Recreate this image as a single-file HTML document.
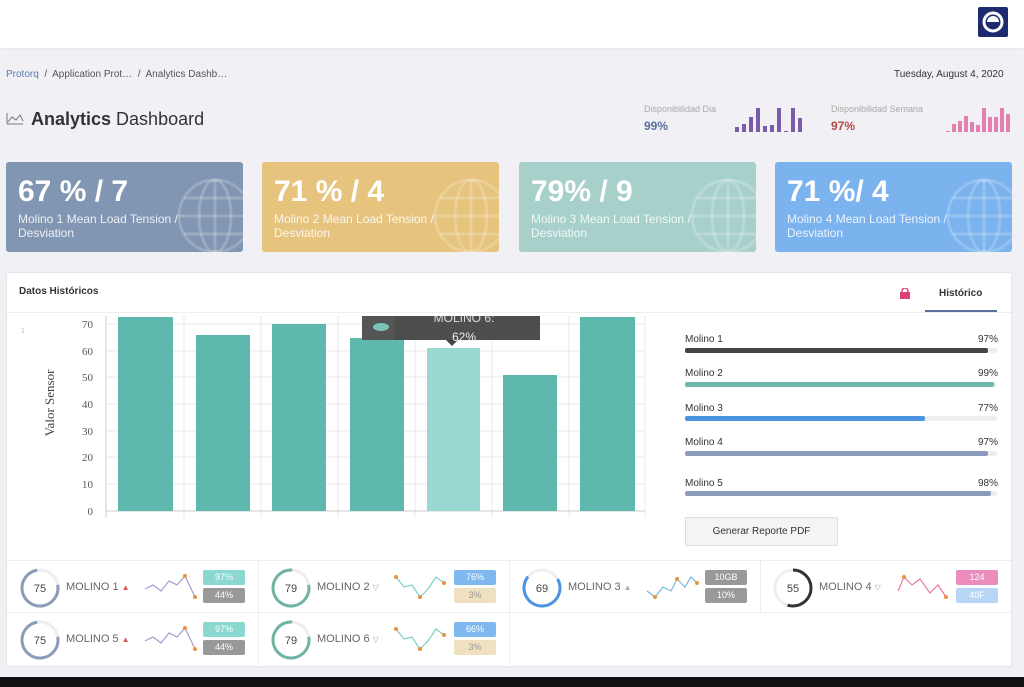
<!DOCTYPE html>
<html><head><meta charset="utf-8"><style>
*{margin:0;padding:0;box-sizing:border-box}
body{width:1024px;height:687px;background:#f1f1f5;font-family:"Liberation Sans",sans-serif;position:relative;overflow:hidden;color:#333}
.a{position:absolute}
.card{position:absolute;top:162px;width:237px;height:90px;border-radius:3px;color:#fff;overflow:hidden}
.card .big{position:absolute;left:12px;top:13px;font-size:30px;font-weight:bold}
.card .sub{position:absolute;left:12px;top:50px;font-size:12px;line-height:14px;opacity:.85}
.card svg{position:absolute;right:-12px;top:14px}
.lbl{font-size:10px;color:#333}
.pct{font-size:10px;color:#333}
.bar{position:absolute;left:685px;width:312px;height:5px;background:#eee;border-radius:2px}
.bar div{height:5px;border-radius:2px}
.cell{position:absolute;width:251px;height:52px;border-right:1px solid #eee}
.cell .name{position:absolute;left:58px;top:20px;font-size:11px;color:#666}
.tag{position:absolute;left:195px;width:42px;height:15px;border-radius:2px;font-size:9px;color:#fff;text-align:center;line-height:15px}
</style></head><body>
<div class="a" style="left:0;top:0;width:1024px;height:48px;background:#fff;box-shadow:0 1px 3px #e6e6ee"></div>
<div class="a" style="left:978px;top:7px;width:30px;height:30px;background:#1e2a6e;border-radius:2px"><svg width="30" height="30"><circle cx="15" cy="15" r="9" fill="none" stroke="#fff" stroke-width="3"/><path d="M9 15 A6 6 0 0 1 21 15" fill="#fff"/></svg></div>
<div class="a" style="left:6px;top:69px;font-size:10px;color:#555"><span style="color:#5a7bb0">Protorq</span> &nbsp;/&nbsp; Application Prot… &nbsp;/&nbsp; Analytics Dashb…</div>
<div class="a" style="left:894px;top:69px;font-size:10px;color:#333">Tuesday, August 4, 2020</div>
<svg class="a" style="left:6px;top:112px" width="18" height="13"><polyline points="1,12 1,1" stroke="#777" fill="none"/><polyline points="1,12 17,12" stroke="#777" fill="none"/><polyline points="2,10 6,5 10,8 14,3 17,9" stroke="#777" fill="none"/></svg>
<div class="a" style="left:31px;top:109px;font-size:18px;color:#333"><b>Analytics</b> Dashboard</div>
<div class="a" style="left:644px;top:104px;font-size:9px;color:#aaa">Disponibilidad Dia</div>
<div class="a" style="left:644px;top:119px;font-size:12px;color:#5d6f9c;font-weight:bold">99%</div>
<svg class="a" style="left:735px;top:104px" width="72" height="28"><g fill="#7b5ca8"><rect x="0" y="23" width="4" height="5"/><rect x="7" y="20" width="4" height="8"/><rect x="14" y="13" width="4" height="15"/><rect x="21" y="4" width="4" height="24"/><rect x="28" y="22" width="4" height="6"/><rect x="35" y="21" width="4" height="7"/><rect x="42" y="4" width="4" height="24"/><rect x="49" y="27" width="4" height="1"/><rect x="56" y="4" width="4" height="24"/><rect x="63" y="14" width="4" height="14"/></g></svg>
<div class="a" style="left:817px;top:102px;width:1px;height:32px;background:#eee"></div>
<div class="a" style="left:831px;top:104px;font-size:9px;color:#aaa">Disponibilidad Semana</div>
<div class="a" style="left:831px;top:119px;font-size:12px;color:#b84848;font-weight:bold">97%</div>
<svg class="a" style="left:946px;top:104px" width="68" height="28"><g fill="#e480b0"><rect x="0" y="27" width="4" height="1"/><rect x="6" y="20" width="4" height="8"/><rect x="12" y="17" width="4" height="11"/><rect x="18" y="12" width="4" height="16"/><rect x="24" y="18" width="4" height="10"/><rect x="30" y="21" width="4" height="7"/><rect x="36" y="4" width="4" height="24"/><rect x="42" y="13" width="4" height="15"/><rect x="48" y="13" width="4" height="15"/><rect x="54" y="4" width="4" height="24"/><rect x="60" y="10" width="4" height="18"/></g></svg>

<div class="card" style="left:6px;background:#8196b2"><div class="big">67 % / 7</div><div class="sub">Molino 1 Mean Load Tension /<br>Desviation</div><svg width="80" height="80"><g fill="none" stroke="#fff" stroke-opacity=".2" stroke-width="3"><circle cx="40" cy="40" r="36"/><ellipse cx="40" cy="40" rx="16" ry="36"/><line x1="4" y1="40" x2="76" y2="40"/><line x1="40" y1="4" x2="40" y2="76"/><line x1="9" y1="22" x2="71" y2="22"/><line x1="9" y1="58" x2="71" y2="58"/></g></svg></div>
<div class="card" style="left:262px;background:#e6c47e"><div class="big">71 % / 4</div><div class="sub">Molino 2 Mean Load Tension /<br>Desviation</div><svg width="80" height="80"><g fill="none" stroke="#fff" stroke-opacity=".2" stroke-width="3"><circle cx="40" cy="40" r="36"/><ellipse cx="40" cy="40" rx="16" ry="36"/><line x1="4" y1="40" x2="76" y2="40"/><line x1="40" y1="4" x2="40" y2="76"/><line x1="9" y1="22" x2="71" y2="22"/><line x1="9" y1="58" x2="71" y2="58"/></g></svg></div>
<div class="card" style="left:519px;background:#a7d0cb"><div class="big">79% / 9</div><div class="sub">Molino 3 Mean Load Tension /<br>Desviation</div><svg width="80" height="80"><g fill="none" stroke="#fff" stroke-opacity=".2" stroke-width="3"><circle cx="40" cy="40" r="36"/><ellipse cx="40" cy="40" rx="16" ry="36"/><line x1="4" y1="40" x2="76" y2="40"/><line x1="40" y1="4" x2="40" y2="76"/><line x1="9" y1="22" x2="71" y2="22"/><line x1="9" y1="58" x2="71" y2="58"/></g></svg></div>
<div class="card" style="left:775px;background:#7bb3ee"><div class="big">71 %/ 4</div><div class="sub">Molino 4 Mean Load Tension /<br>Desviation</div><svg width="80" height="80"><g fill="none" stroke="#fff" stroke-opacity=".2" stroke-width="3"><circle cx="40" cy="40" r="36"/><ellipse cx="40" cy="40" rx="16" ry="36"/><line x1="4" y1="40" x2="76" y2="40"/><line x1="40" y1="4" x2="40" y2="76"/><line x1="9" y1="22" x2="71" y2="22"/><line x1="9" y1="58" x2="71" y2="58"/></g></svg></div>

<div class="a" style="left:6px;top:272px;width:1006px;height:395px;background:#fff;border:1px solid #e6e6ea;border-radius:3px"></div>
<div class="a" style="left:19px;top:286px;font-size:10px;font-weight:bold;color:#333">Datos Históricos</div>
<div class="a" style="left:900px;top:286px;width:10px;height:10px"><svg width="10" height="11"><rect x="0" y="4" width="10" height="7" fill="#e0407a"/><path d="M2 5V3a3 3 0 0 1 6 0v2" fill="none" stroke="#e0407a" stroke-width="1.5"/></svg></div>
<div class="a" style="left:939px;top:288px;font-size:10px;font-weight:bold;color:#333">Histórico</div>
<div class="a" style="left:925px;top:310px;width:72px;height:2px;background:#5d6f9c"></div>
<div class="a" style="left:7px;top:312px;width:1004px;height:1px;background:#eee"></div>

<svg class="a" style="left:0;top:313px" width="680" height="210">
<g stroke="#e8e8ec" stroke-width="1">
<line x1="106" y1="11" x2="645" y2="11"/><line x1="106" y1="38" x2="645" y2="38"/><line x1="106" y1="64" x2="645" y2="64"/><line x1="106" y1="91" x2="645" y2="91"/><line x1="106" y1="118" x2="645" y2="118"/><line x1="106" y1="144" x2="645" y2="144"/><line x1="106" y1="171" x2="645" y2="171"/>
<line x1="184" y1="3" x2="184" y2="205"/><line x1="261" y1="3" x2="261" y2="205"/><line x1="338" y1="3" x2="338" y2="205"/><line x1="415" y1="3" x2="415" y2="205"/><line x1="492" y1="3" x2="492" y2="205"/><line x1="569" y1="3" x2="569" y2="205"/><line x1="645" y1="3" x2="645" y2="205"/>
</g>
<line x1="106" y1="3" x2="106" y2="205" stroke="#ccc"/>
<line x1="106" y1="198" x2="645" y2="198" stroke="#ccc"/>
<g font-family="Liberation Serif" font-size="11" fill="#555" text-anchor="end">
<text x="93" y="15">70</text><text x="93" y="42">60</text><text x="93" y="68">50</text><text x="93" y="95">40</text><text x="93" y="122">30</text><text x="93" y="148">20</text><text x="93" y="175">10</text><text x="93" y="202">0</text></g>
<text x="21" y="20" font-size="7" fill="#bbb">1</text>
<text transform="translate(54,90) rotate(-90)" font-family="Liberation Serif" font-size="13" fill="#444" text-anchor="middle">Valor Sensor</text>
<g fill="#5fb8ad">
<rect x="118" y="4" width="55" height="194"/><rect x="196" y="22" width="54" height="176"/><rect x="272" y="11" width="54" height="187"/><rect x="350" y="25" width="54" height="173"/><rect x="427" y="35" width="53" height="163" fill="#9ad8d2"/><rect x="503" y="62" width="54" height="136"/><rect x="580" y="4" width="55" height="194"/></g>
<rect x="362" y="3" width="178" height="24" fill="#444" opacity=".95"/><rect x="362" y="3" width="32" height="24" fill="#555"/>
<ellipse cx="381" cy="14" rx="8" ry="4" fill="#7ac4b7"/>
<path d="M446 27 L452 33 L458 27Z" fill="#444"/>
<text x="464" y="9" font-size="12" fill="#ddd" text-anchor="middle">MOLINO 6:</text>
<text x="464" y="28" font-size="12" fill="#eee" text-anchor="middle">62%</text>
</svg>
<div class="a" style="left:7px;top:313px;width:660px;height:3px;background:#fff"></div>

<div class="a lbl" style="left:685px;top:334px">Molino 1</div><div class="a pct" style="left:978px;top:334px">97%</div>
<div class="bar" style="top:348px"><div style="width:97%;background:#444"></div></div>
<div class="a lbl" style="left:685px;top:368px">Molino 2</div><div class="a pct" style="left:978px;top:368px">99%</div>
<div class="bar" style="top:382px"><div style="width:99%;background:#6fb7a9"></div></div>
<div class="a lbl" style="left:685px;top:403px">Molino 3</div><div class="a pct" style="left:978px;top:403px">77%</div>
<div class="bar" style="top:416px"><div style="width:77%;background:#4a94e0"></div></div>
<div class="a lbl" style="left:685px;top:437px">Molino 4</div><div class="a pct" style="left:978px;top:437px">97%</div>
<div class="bar" style="top:451px"><div style="width:97%;background:#8a9bbb"></div></div>
<div class="a lbl" style="left:685px;top:478px">Molino 5</div><div class="a pct" style="left:978px;top:478px">98%</div>
<div class="bar" style="top:491px"><div style="width:98%;background:#8a9bbb"></div></div>
<div class="a" style="left:685px;top:517px;width:153px;height:29px;background:#f4f4f4;border:1px solid #ddd;border-radius:2px;font-size:10px;text-align:center;line-height:27px;color:#333">Generar Reporte PDF</div>

<div class="a" style="left:7px;top:560px;width:1004px;height:1px;background:#eee"></div>
<div class="a" style="left:7px;top:612px;width:1004px;height:1px;background:#eee"></div>

<div class="cell" style="left:8px;top:561px"><svg class="a" style="left:10px;top:5px" width="44" height="44"><circle cx="22" cy="22" r="18" fill="none" stroke="#eee" stroke-width="3"/><circle cx="22" cy="22" r="18" fill="none" stroke="#8c9bb8" stroke-width="3" stroke-dasharray="85 113" transform="rotate(-10 22 22)"/><text x="22" y="26" font-size="11" text-anchor="middle" fill="#444">75</text></svg><div class="name">MOLINO 1 <span style="color:#d55;font-size:8px">▲</span></div>
<svg class="a" style="left:135px;top:10px" width="55" height="32"><polyline points="2,18 10,14 18,20 26,10 34,14 42,5 52,26" fill="none" stroke="#a99bd0" stroke-width="1.2"/><circle cx="42" cy="5" r="2" fill="#e9923a"/><circle cx="52" cy="26" r="2" fill="#e9923a"/></svg>
<div class="tag" style="top:9px;background:#8ad8d0">97%</div><div class="tag" style="top:27px;background:#999">44%</div></div>
<div class="cell" style="left:259px;top:561px"><svg class="a" style="left:10px;top:5px" width="44" height="44"><circle cx="22" cy="22" r="18" fill="none" stroke="#eee" stroke-width="3"/><circle cx="22" cy="22" r="18" fill="none" stroke="#6fb3a5" stroke-width="3" stroke-dasharray="89 113" transform="rotate(-10 22 22)"/><text x="22" y="26" font-size="11" text-anchor="middle" fill="#444">79</text></svg><div class="name">MOLINO 2 <span style="color:#aaa;font-size:8px">▽</span></div>
<svg class="a" style="left:135px;top:10px" width="55" height="32"><polyline points="2,6 10,16 18,14 26,26 34,18 42,6 50,12" fill="none" stroke="#7ccfc5" stroke-width="1.2"/><circle cx="2" cy="6" r="2" fill="#e9923a"/><circle cx="26" cy="26" r="2" fill="#e9923a"/><circle cx="50" cy="12" r="2" fill="#e9923a"/></svg>
<div class="tag" style="top:9px;background:#7fb8ee">76%</div><div class="tag" style="top:27px;background:#efe0c0;color:#999">3%</div></div>
<div class="cell" style="left:510px;top:561px"><svg class="a" style="left:10px;top:5px" width="44" height="44"><circle cx="22" cy="22" r="18" fill="none" stroke="#eee" stroke-width="3"/><circle cx="22" cy="22" r="18" fill="none" stroke="#4a94e0" stroke-width="3" stroke-dasharray="78 113" transform="rotate(-30 22 22)"/><text x="22" y="26" font-size="11" text-anchor="middle" fill="#444">69</text></svg><div class="name">MOLINO 3 <span style="color:#aaa;font-size:8px">▲</span></div>
<svg class="a" style="left:135px;top:10px" width="55" height="32"><polyline points="2,20 10,26 18,16 26,20 32,8 40,16 46,6 52,12" fill="none" stroke="#7ab8e0" stroke-width="1.2"/><circle cx="10" cy="26" r="2" fill="#e9923a"/><circle cx="32" cy="8" r="2" fill="#e9923a"/><circle cx="52" cy="12" r="2" fill="#e9923a"/></svg>
<div class="tag" style="top:9px;background:#999">10GB</div><div class="tag" style="top:27px;background:#999">10%</div></div>
<div class="cell" style="left:761px;top:561px;border-right:none"><svg class="a" style="left:10px;top:5px" width="44" height="44"><circle cx="22" cy="22" r="18" fill="none" stroke="#eee" stroke-width="3"/><circle cx="22" cy="22" r="18" fill="none" stroke="#333" stroke-width="3" stroke-dasharray="62 113" transform="rotate(-90 22 22)"/><text x="22" y="26" font-size="11" text-anchor="middle" fill="#444">55</text></svg><div class="name">MOLINO 4 <span style="color:#aaa;font-size:8px">▽</span></div>
<svg class="a" style="left:135px;top:10px" width="55" height="32"><polyline points="2,20 8,6 16,14 24,8 34,22 42,14 50,26" fill="none" stroke="#e87aaa" stroke-width="1.2"/><circle cx="8" cy="6" r="2" fill="#e9923a"/><circle cx="50" cy="26" r="2" fill="#e9923a"/></svg>
<div class="tag" style="top:9px;background:#ec8cbc">124</div><div class="tag" style="top:27px;background:#b7d6f5">40F</div></div>
<div class="cell" style="left:8px;top:613px"><svg class="a" style="left:10px;top:5px" width="44" height="44"><circle cx="22" cy="22" r="18" fill="none" stroke="#eee" stroke-width="3"/><circle cx="22" cy="22" r="18" fill="none" stroke="#8c9bb8" stroke-width="3" stroke-dasharray="85 113" transform="rotate(-10 22 22)"/><text x="22" y="26" font-size="11" text-anchor="middle" fill="#444">75</text></svg><div class="name">MOLINO 5 <span style="color:#d55;font-size:8px">▲</span></div>
<svg class="a" style="left:135px;top:10px" width="55" height="32"><polyline points="2,18 10,14 18,20 26,10 34,14 42,5 52,26" fill="none" stroke="#a99bd0" stroke-width="1.2"/><circle cx="42" cy="5" r="2" fill="#e9923a"/><circle cx="52" cy="26" r="2" fill="#e9923a"/></svg>
<div class="tag" style="top:9px;background:#8ad8d0">97%</div><div class="tag" style="top:27px;background:#999">44%</div></div>
<div class="cell" style="left:259px;top:613px"><svg class="a" style="left:10px;top:5px" width="44" height="44"><circle cx="22" cy="22" r="18" fill="none" stroke="#eee" stroke-width="3"/><circle cx="22" cy="22" r="18" fill="none" stroke="#6fb3a5" stroke-width="3" stroke-dasharray="89 113" transform="rotate(-10 22 22)"/><text x="22" y="26" font-size="11" text-anchor="middle" fill="#444">79</text></svg><div class="name">MOLINO 6 <span style="color:#aaa;font-size:8px">▽</span></div>
<svg class="a" style="left:135px;top:10px" width="55" height="32"><polyline points="2,6 10,16 18,14 26,26 34,18 42,6 50,12" fill="none" stroke="#7ccfc5" stroke-width="1.2"/><circle cx="2" cy="6" r="2" fill="#e9923a"/><circle cx="26" cy="26" r="2" fill="#e9923a"/><circle cx="50" cy="12" r="2" fill="#e9923a"/></svg>
<div class="tag" style="top:9px;background:#7fb8ee">66%</div><div class="tag" style="top:27px;background:#efe0c0;color:#999">3%</div></div>

<div class="a" style="left:0;top:677px;width:1024px;height:10px;background:#111"></div>
</body></html>
